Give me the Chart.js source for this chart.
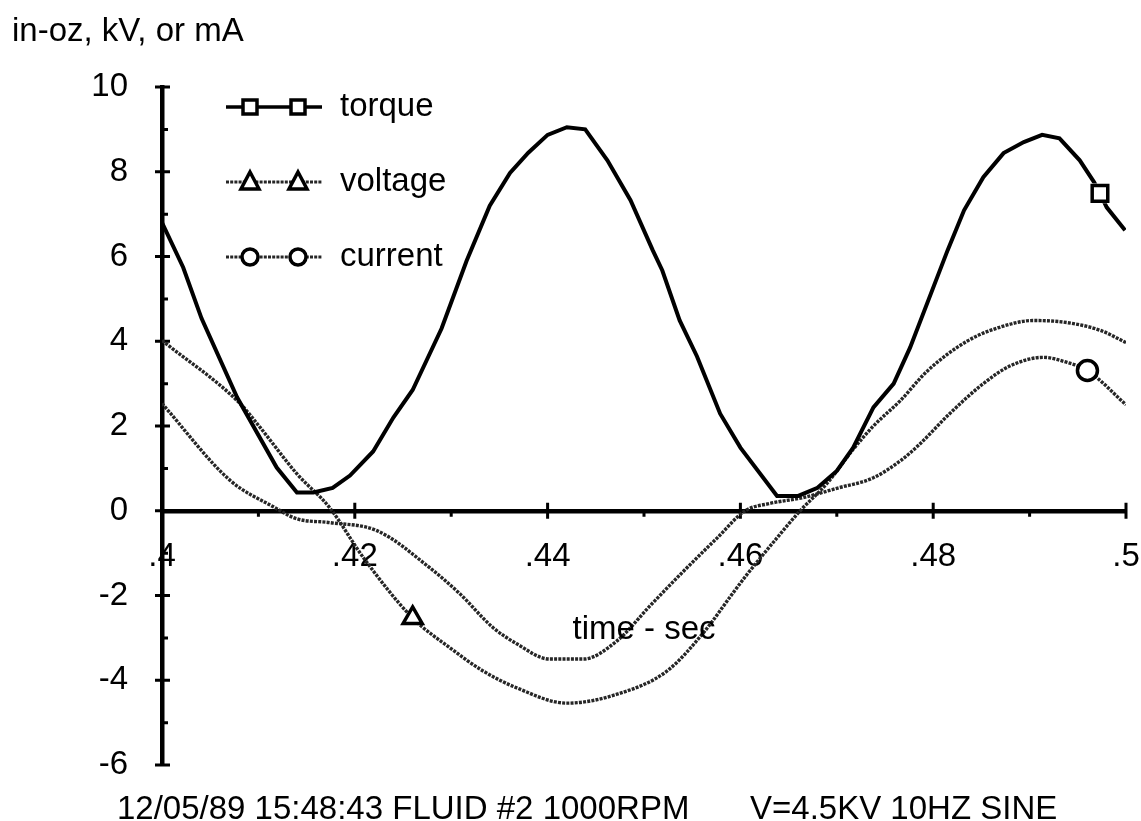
<!DOCTYPE html>
<html>
<head>
<meta charset="utf-8">
<script src="https://cdn.jsdelivr.net/npm/chart.js@4/dist/chart.umd.min.js"></script>
<style>
  html, body { margin: 0; padding: 0; background: #fff; }
  canvas { display: block; }
</style>
</head>
<body>
<canvas id="chart" width="1141" height="821"></canvas>
<script>
// Torque, voltage and current over one 10 Hz period (time in seconds)
const torqueT = [.4000, .4022, .4041, .4078, .4119, .4140, .4157, .4177, .4195, .4219,
                 .4240, .4260, .4290, .4316, .4340, .4361, .4380, .4400, .4420, .4439,
                 .4462, .4486, .4509, .4519, .4537, .4555, .4579, .4600, .4638, .4660,
                 .4680, .4700, .4717, .4738, .4759, .4776, .4815, .4832, .4852, .4873,
                 .4894, .4913, .4931, .4952, .4967, .4973, .4980, .4999];
const torqueV = [6.80, 5.74, 4.54, 2.67, 1.02, 0.43, 0.43, 0.54, 0.83, 1.40,
                 2.20, 2.85, 4.30, 5.90, 7.20, 7.97, 8.45, 8.87, 9.05, 9.00,
                 8.27, 7.33, 6.15, 5.67, 4.49, 3.64, 2.29, 1.49, 0.35, 0.35,
                 0.54, 0.94, 1.49, 2.44, 3.00, 3.85, 6.15, 7.09, 7.87, 8.44,
                 8.70, 8.87, 8.79, 8.27, 7.75, 7.49, 7.16, 6.62];

const voltageT = [.4000, .4081, .4102, .4140, .4174, .4209, .4260, .4299, .4333, .4368,
                  .4420, .4472, .4524, .4563, .4592, .4607, .4638, .4662, .4690, .4717,
                  .4738, .4766, .4794, .4835, .4869, .4904, .4939, .4973, .5000];
const voltageV = [4.02, 2.53, 1.96, 0.87, 0.07, -1.11, -2.53, -3.24, -3.78, -4.18,
                  -4.54, -4.33, -3.78, -2.84, -1.95, -1.50, -0.64, 0.00, 0.65, 1.45,
                  2.00, 2.60, 3.30, 4.00, 4.33, 4.49, 4.44, 4.26, 3.97];

const currentT = [.4000, .4071, .4115, .4140, .4174, .4223, .4278, .4309, .4343, .4368,
                  .4402, .4437, .4472, .4506, .4540, .4576, .4605, .4630, .4665, .4700,
                  .4738, .4766, .4785, .4817, .4852, .4880, .4914, .4939, .4960, .5000];
const currentV = [2.53, 0.71, 0.10, -0.19, -0.28, -0.47, -1.35, -1.96, -2.75, -3.14,
                  -3.50, -3.50, -3.07, -2.25, -1.45, -0.64, 0.00, 0.17, 0.31, 0.53,
                  0.78, 1.18, 1.55, 2.29, 3.00, 3.42, 3.62, 3.50, 3.31, 2.50];

// Index of the single plotted symbol on each curve
const torqueMark = 45;
const voltageMark = 6;
const currentMark = 28;

const seriesNames = ['torque', 'voltage', 'current'];
const xTicks = [.40, .42, .44, .46, .48, .50];
const yTicks = [-6, -4, -2, 0, 2, 4, 6, 8, 10];
const chartTitle = 'in-oz, kV, or mA';
const xTitle = 'time - sec';
const footLeft = '12/05/89 15:48:43 FLUID #2 1000RPM';
const footRight = 'V=4.5KV 10HZ SINE';

const FONT = '"Liberation Sans", Arial, Helvetica, sans-serif';
const FS = 33;

const pts = (t, v) => t.map((x, i) => ({x, y: v[i]}));
const one = (t, v, i) => [{x: t[i], y: v[i]}];
const fmtTime = v => {
  const s = String(Math.round(v * 100) / 100);
  return s.replace(/^0\./, '.');
};

const DOT_COLOR = '#262626';
const DOT_DASH = [3, 1.2];
const DOT_WIDTH = 3.4;

// Axis tick marks, the titles, footer line and a hand-drawn key
const decorations = {
  id: 'decorations',
  beforeDatasetsDraw(chart) {
    const {ctx, scales: {x, y}} = chart;
    const x0 = y.getPixelForValue(0);
    const yAxisX = chart.chartArea.left;
    ctx.save();
    ctx.strokeStyle = '#000';
    ctx.lineWidth = 3;
    ctx.beginPath();
    // major ticks cross the axis, minor ticks sit on one side
    xTicks.forEach(v => {
      const px = x.getPixelForValue(v);
      ctx.moveTo(px, x0 - 8); ctx.lineTo(px, x0 + 8);
    });
    for (let i = 0; i < xTicks.length - 1; i++) {
      const px = x.getPixelForValue((xTicks[i] + xTicks[i + 1]) / 2);
      ctx.moveTo(px, x0); ctx.lineTo(px, x0 + 6);
    }
    yTicks.forEach(v => {
      const py = y.getPixelForValue(v);
      ctx.moveTo(yAxisX - 7, py); ctx.lineTo(yAxisX + 8, py);
    });
    for (let i = 0; i < yTicks.length - 1; i++) {
      const py = y.getPixelForValue((yTicks[i] + yTicks[i + 1]) / 2);
      ctx.moveTo(yAxisX, py); ctx.lineTo(yAxisX + 6, py);
    }
    ctx.stroke();
    ctx.restore();
  },
  afterDraw(chart) {
    const {ctx} = chart;
    ctx.save();
    ctx.fillStyle = '#000';
    ctx.font = `${FS}px ${FONT}`;
    ctx.textBaseline = 'alphabetic';
    ctx.textAlign = 'left';
    ctx.fillText(chartTitle, 12, 41);
    ctx.fillText(footLeft, 117, 819);
    ctx.fillText(footRight, 750, 819);
    ctx.textAlign = 'center';
    ctx.textBaseline = 'middle';
    ctx.fillText(xTitle, 644, 630);

    // key
    const keyX0 = 226, keyX1 = 322, m1 = 250, m2 = 298, textX = 340;
    const rows = [107, 182, 257];
    rows.forEach((ry, k) => {
      ctx.save();
      ctx.beginPath();
      if (k === 0) {
        ctx.strokeStyle = '#000'; ctx.lineWidth = 3.5; ctx.setLineDash([]);
      } else {
        ctx.strokeStyle = DOT_COLOR; ctx.lineWidth = 3; ctx.setLineDash(DOT_DASH);
      }
      ctx.moveTo(keyX0, ry); ctx.lineTo(keyX1, ry);
      ctx.stroke();
      ctx.setLineDash([]);
      ctx.strokeStyle = '#000';
      ctx.lineWidth = 3.5;
      ctx.fillStyle = '#fff';
      [m1, m2].forEach(mx => {
        ctx.beginPath();
        if (k === 0) {
          ctx.rect(mx - 7, ry - 7, 14, 14);
        } else if (k === 1) {
          ctx.moveTo(mx, ry - 10); ctx.lineTo(mx + 9, ry + 7); ctx.lineTo(mx - 9, ry + 7); ctx.closePath();
        } else {
          ctx.arc(mx, ry, 8, 0, Math.PI * 2);
        }
        ctx.fill(); ctx.stroke();
      });
      ctx.restore();
      ctx.fillStyle = '#000';
      ctx.textAlign = 'left';
      ctx.textBaseline = 'middle';
      ctx.fillText(seriesNames[k], textX, ry);
    });
    ctx.restore();
  }
};

new Chart(document.getElementById('chart'), {
  type: 'line',
  data: {
    datasets: [
      {
        label: seriesNames[1], data: pts(voltageT, voltageV),
        borderColor: DOT_COLOR, borderWidth: DOT_WIDTH, borderDash: DOT_DASH,
        pointRadius: 0, cubicInterpolationMode: 'monotone', order: 6
      },
      {
        label: seriesNames[2], data: pts(currentT, currentV),
        borderColor: DOT_COLOR, borderWidth: DOT_WIDTH, borderDash: DOT_DASH,
        pointRadius: 0, cubicInterpolationMode: 'monotone', order: 5
      },
      {
        label: seriesNames[0], data: pts(torqueT, torqueV),
        borderColor: '#000', borderWidth: 4, pointRadius: 0, tension: 0, order: 4
      },
      {
        label: 'gap', data: one(torqueT, torqueV, torqueMark), showLine: false,
        pointStyle: 'rect', pointRadius: 14, pointBackgroundColor: '#fff',
        pointBorderWidth: 0, pointBorderColor: '#fff', order: 3
      },
      {
        label: 'torque symbol', data: one(torqueT, torqueV, torqueMark), showLine: false,
        pointStyle: 'rect', pointRadius: 11, pointBackgroundColor: '#fff',
        pointBorderWidth: 3.5, pointBorderColor: '#000', order: 2
      },
      {
        label: 'voltage symbol', data: one(voltageT, voltageV, voltageMark), showLine: false,
        pointStyle: 'triangle', pointRadius: 11, pointBackgroundColor: '#fff',
        pointBorderWidth: 3.5, pointBorderColor: '#000', order: 1
      },
      {
        label: 'current symbol', data: one(currentT, currentV, currentMark), showLine: false,
        pointStyle: 'circle', pointRadius: 10, pointBackgroundColor: '#fff',
        pointBorderWidth: 3.5, pointBorderColor: '#000', order: 0
      }
    ]
  },
  options: {
    responsive: false,
    animation: false,
    events: [],
    layout: {padding: {top: 87, bottom: 56, left: 0, right: 15}},
    plugins: {legend: {display: false}, tooltip: {enabled: false}, title: {display: false}},
    scales: {
      x: {
        type: 'linear', min: .4, max: .5, position: {y: 0},
        // invisible tick marks only push the labels below the axis
        grid: {display: true, drawOnChartArea: false, drawTicks: true, tickLength: 26, color: 'rgba(0,0,0,0)'},
        border: {display: true, width: 4.5, color: '#000'},
        afterBuildTicks: s => { s.ticks = xTicks.map(value => ({value})); },
        ticks: {
          padding: 0, color: '#000', maxRotation: 0, autoSkip: false,
          font: {family: FONT, size: FS}, callback: v => fmtTime(v)
        }
      },
      y: {
        type: 'linear', min: -6, max: 10, position: 'left',
        grid: {display: false, drawTicks: false},
        border: {display: true, width: 4.5, color: '#000'},
        afterBuildTicks: s => { s.ticks = yTicks.map(value => ({value})); },
        afterFit: s => { s.width = 162; },
        ticks: {padding: 34, color: '#000', font: {family: FONT, size: FS}}
      }
    }
  },
  plugins: [decorations]
});
</script>
</body>
</html>
